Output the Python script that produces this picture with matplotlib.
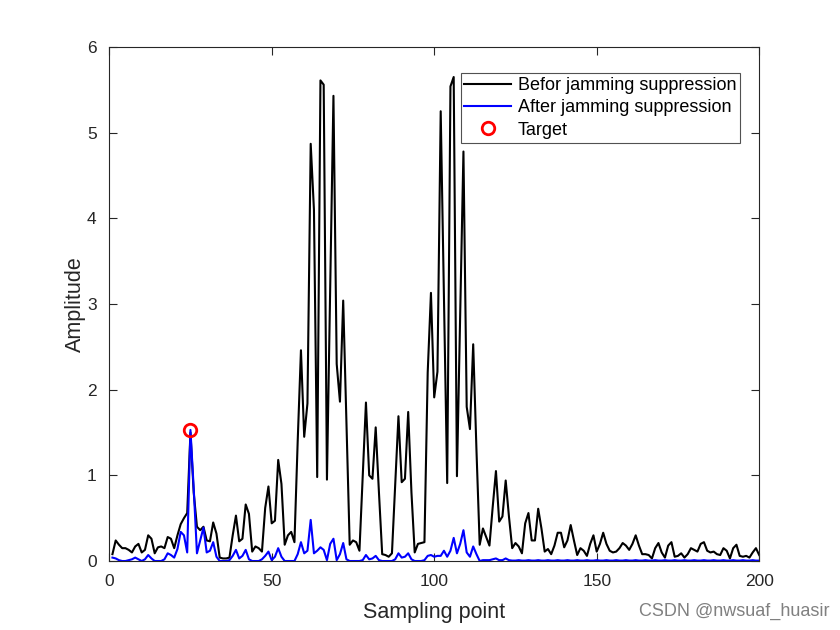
import numpy as np
import matplotlib
matplotlib.use("Agg")
import matplotlib.pyplot as plt

plt.rcParams['font.family'] = ['Liberation Sans', 'DejaVu Sans']

before = [0.08, 0.24, 0.19, 0.15, 0.15, 0.13, 0.10, 0.17, 0.20, 0.10,
          0.13, 0.30, 0.26, 0.09, 0.16, 0.17, 0.15, 0.28, 0.26, 0.15,
          0.30, 0.43, 0.50, 0.56, 1.50, 0.80, 0.40, 0.36, 0.40, 0.24,
          0.23, 0.45, 0.32, 0.04, 0.03, 0.03, 0.04, 0.30, 0.53, 0.23,
          0.26, 0.66, 0.55, 0.11, 0.17, 0.15, 0.11, 0.62, 0.87, 0.44,
          0.47, 1.18, 0.90, 0.19, 0.30, 0.34, 0.22, 1.40, 2.46, 1.45,
          1.84, 4.87, 4.10, 0.98, 5.61, 5.56, 0.95, 3.20, 5.43, 2.30,
          1.86, 3.04, 1.60, 0.19, 0.24, 0.22, 0.12, 1.00, 1.85, 1.00,
          0.96, 1.56, 0.80, 0.08, 0.07, 0.05, 0.09, 0.90, 1.69, 0.92,
          0.96, 1.74, 0.80, 0.10, 0.20, 0.21, 0.22, 2.20, 3.13, 1.91,
          2.21, 5.25, 3.10, 0.91, 5.54, 5.65, 0.99, 2.90, 4.78, 1.80,
          1.54, 2.53, 1.30, 0.19, 0.38, 0.28, 0.18, 0.63, 1.05, 0.46,
          0.52, 0.94, 0.52, 0.15, 0.21, 0.17, 0.09, 0.44, 0.56, 0.24,
          0.24, 0.61, 0.38, 0.11, 0.14, 0.08, 0.18, 0.33, 0.33, 0.16,
          0.24, 0.42, 0.24, 0.07, 0.15, 0.12, 0.06, 0.20, 0.30, 0.11,
          0.20, 0.33, 0.20, 0.12, 0.10, 0.11, 0.15, 0.21, 0.18, 0.13,
          0.20, 0.30, 0.18, 0.08, 0.08, 0.07, 0.03, 0.15, 0.21, 0.10,
          0.04, 0.18, 0.22, 0.05, 0.06, 0.09, 0.04, 0.08, 0.15, 0.13,
          0.11, 0.20, 0.22, 0.12, 0.10, 0.11, 0.08, 0.07, 0.15, 0.12,
          0.03, 0.15, 0.19, 0.06, 0.05, 0.06, 0.04, 0.10, 0.15, 0.07]

after = [0.04, 0.03, 0.01, 0.00, 0.00, 0.01, 0.02, 0.04, 0.02, 0.00,
         0.02, 0.07, 0.03, 0.00, 0.00, 0.00, 0.02, 0.09, 0.07, 0.04,
         0.14, 0.34, 0.30, 0.10, 1.53, 0.85, 0.09, 0.24, 0.39, 0.10,
         0.12, 0.22, 0.05, 0.00, 0.00, 0.00, 0.01, 0.06, 0.13, 0.03,
         0.06, 0.13, 0.02, 0.00, 0.00, 0.00, 0.02, 0.06, 0.11, 0.01,
         0.05, 0.15, 0.05, 0.00, 0.00, 0.00, 0.00, 0.08, 0.22, 0.09,
         0.12, 0.48, 0.09, 0.12, 0.16, 0.13, 0.01, 0.20, 0.26, 0.01,
         0.08, 0.21, 0.02, 0.00, 0.00, 0.00, 0.00, 0.01, 0.07, 0.02,
         0.03, 0.06, 0.01, 0.00, 0.00, 0.00, 0.00, 0.02, 0.09, 0.04,
         0.05, 0.09, 0.02, 0.00, 0.00, 0.00, 0.01, 0.06, 0.07, 0.05,
         0.06, 0.06, 0.12, 0.05, 0.12, 0.27, 0.09, 0.20, 0.36, 0.10,
         0.05, 0.17, 0.08, 0.00, 0.01, 0.01, 0.01, 0.02, 0.03, 0.01,
         0.01, 0.03, 0.01, 0.005, 0.005, 0.01, 0.005, 0.005, 0.01, 0.005,
         0.005, 0.01, 0.005, 0.005, 0.01, 0.005, 0.005, 0.01, 0.005, 0.005,
         0.01, 0.005, 0.005, 0.01, 0.005, 0.005, 0.01, 0.005, 0.005, 0.01,
         0.005, 0.005, 0.01, 0.005, 0.005, 0.01, 0.005, 0.005, 0.01, 0.005,
         0.005, 0.01, 0.005, 0.005, 0.01, 0.005, 0.005, 0.01, 0.005, 0.005,
         0.01, 0.005, 0.005, 0.01, 0.005, 0.005, 0.01, 0.005, 0.005, 0.01,
         0.005, 0.005, 0.01, 0.005, 0.005, 0.01, 0.005, 0.005, 0.01, 0.005,
         0.005, 0.01, 0.005, 0.005, 0.01, 0.005, 0.005, 0.01, 0.005, 0.005]

sample = np.arange(1, len(before) + 1)
target_x = [25]
target_y = [1.53]

xticks = [0, 50, 100, 150, 200]
yticks = [0, 1, 2, 3, 4, 5, 6]

axcol = (0.15, 0.15, 0.15)

fig = plt.figure(figsize=(8.4, 6.3), dpi=100)
ax = fig.add_axes([0.13, 0.1095, 0.7738, 0.8159])

ax.plot(sample, before, color='black', lw=1.5, label='Befor jamming suppression')
ax.plot(sample, after, color='blue', lw=1.5, label='After jamming suppression')
ax.plot(target_x, target_y, 'o', mfc='none', mec='red', mew=2, ms=9,
        label='Target', linestyle='none')

ax.set_xlim(0, 200)
ax.set_ylim(0, 6)
ax.set_xticks(xticks)
ax.set_yticks(yticks)
ax.tick_params(direction='in', top=True, right=True, length=6, width=0.8,
               labelsize=12.5, colors=axcol, pad=9)
for s in ax.spines.values():
    s.set_color(axcol)
    s.set_linewidth(0.8)

ax.set_xlabel('Sampling point', fontsize=15.5, color=axcol, labelpad=10)
ax.set_ylabel('Amplitude', fontsize=15.5, color=axcol, labelpad=1)

leg = ax.legend(loc='upper right', bbox_to_anchor=(0.9708, 0.9494),
                borderaxespad=0, fontsize=13, frameon=True, fancybox=False,
                edgecolor=axcol, handlelength=2.6, labelspacing=0.3,
                handletextpad=0.35, borderpad=0.22)
leg.get_frame().set_linewidth(0.8)

fig.text(0.988, 0.03, 'CSDN @nwsuaf_huasir', ha='right', va='center',
         fontsize=13, color=(0.5, 0.5, 0.5))

fig.savefig('out.png', dpi=100, facecolor='white')
